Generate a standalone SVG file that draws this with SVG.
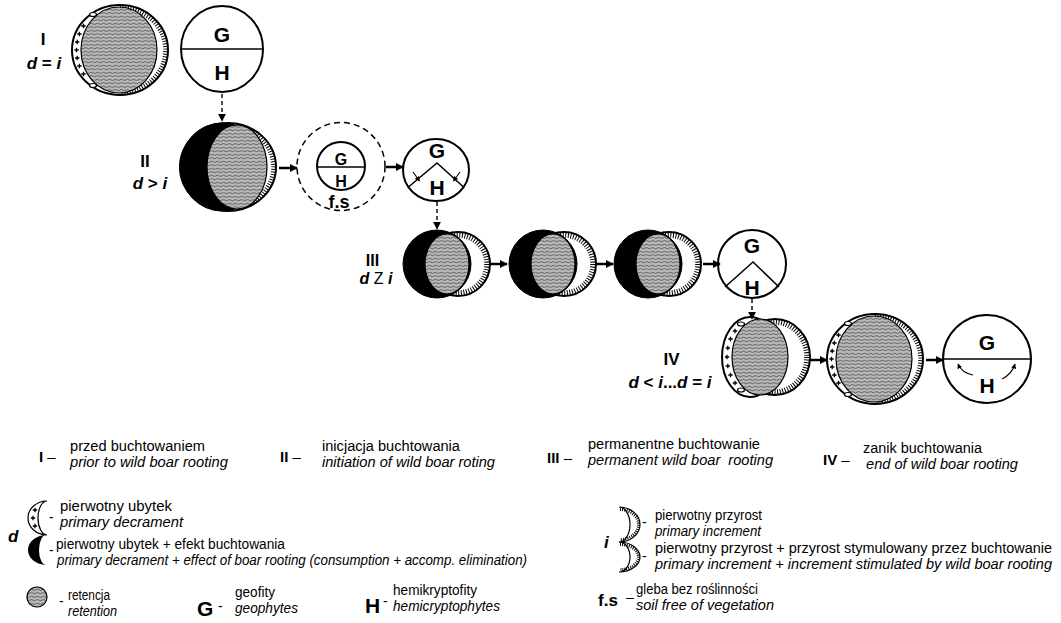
<svg xmlns="http://www.w3.org/2000/svg" xmlns:xlink="http://www.w3.org/1999/xlink" width="1061" height="623" viewBox="0 0 1061 623">
<style>
.t{font-family:"Liberation Sans",Arial,sans-serif;font-size:14px;fill:#000}
.it{font-style:italic}
.b{font-weight:bold}
.lbl{font-family:"Liberation Sans",Arial,sans-serif;font-weight:bold;font-size:17px;text-anchor:middle;fill:#000}
.gh{font-family:"Liberation Sans",Arial,sans-serif;font-weight:bold;font-size:21px;text-anchor:middle;fill:#000}
.ol{fill:#fff;stroke:#000;stroke-width:2}
.ol1{fill:#fff;stroke:#000;stroke-width:1.2}
.hat{fill:url(#hatch);stroke:#000;stroke-width:1.2}
.blk{fill:#000;stroke:#000;stroke-width:1}
.tick{fill:none;stroke:#000;stroke-width:4.5;stroke-dasharray:1 1.6}
.ln{fill:none;stroke:#000;stroke-width:1.5}
.con{stroke:#000;stroke-width:2.5;fill:none}
.dcon{stroke:#000;stroke-width:1.4;stroke-dasharray:4 3;fill:none}
.sm{stroke:#000;stroke-width:1.1;fill:none}
</style>
<defs>
<pattern id="hatch" patternUnits="userSpaceOnUse" width="6" height="3.5">
<rect width="6" height="3.5" fill="#bcbcbc"/>
<path d="M0,1.75 Q1.5,0.5 3,1.75 Q4.5,3 6,1.75" stroke="#222" stroke-width="0.7" fill="none"/>
</pattern>
<marker id="ah" viewBox="0 0 10 10" refX="9" refY="5" markerWidth="8" markerHeight="8" markerUnits="userSpaceOnUse" orient="auto"><path d="M0,0 L10,5 L0,10 z" fill="#000"/></marker>
<marker id="ahs" viewBox="0 0 10 10" refX="9" refY="5" markerWidth="5" markerHeight="5" markerUnits="userSpaceOnUse" orient="auto"><path d="M0,0 L10,5 L0,10 z" fill="#000"/></marker>
<path id="plus" d="M-2.2,0h4.4M0,-2.2v4.4" stroke="#000" stroke-width="1.3" fill="none"/>
<g id="stable">
<ellipse rx="48" ry="45" class="ol"/>
<path d="M0,-42.5 A45.5 42.5 0 0 1 0,42.5" class="tick"/>
<ellipse cx="-1" rx="38" ry="43" class="hat"/>
<ellipse cx="-27" cy="-35.5" rx="3.5" ry="2" class="ol1"/>
<ellipse cx="-27" cy="35.5" rx="3.5" ry="2" class="ol1"/>
<use xlink:href="#plus" x="-43.5" y="0"/>
<use xlink:href="#plus" x="-42.8" y="-8"/>
<use xlink:href="#plus" x="-42.8" y="8"/>
<use xlink:href="#plus" x="-40.6" y="-16"/>
<use xlink:href="#plus" x="-40.6" y="16"/>
<use xlink:href="#plus" x="-36.5" y="-24"/>
<use xlink:href="#plus" x="-36.5" y="24"/>
</g>
<g id="rooted">
<ellipse cx="12" rx="32" ry="32" class="ol"/>
<ellipse cx="12" rx="29" ry="29" class="tick" style="stroke-width:5.5"/>
<ellipse cx="-9" rx="34" ry="34" class="blk"/>
<ellipse cx="1" rx="22" ry="30" class="hat"/>
</g>
</defs>

<!-- Stage I -->
<g id="label-I">
<text class="lbl" x="43" y="45">I</text>
<text class="lbl" x="44" y="69"><tspan class="it">d</tspan> = <tspan class="it">i</tspan></text>
</g>
<g id="node-I-state"><use xlink:href="#stable" transform="translate(120,50)"/></g>
<g id="node-I-GH">
<ellipse cx="222" cy="49" rx="41" ry="43" class="ol" stroke-width="1.5"/>
<line x1="181" y1="49" x2="263" y2="49" class="ln"/>
<text class="gh" x="222" y="42">G</text>
<text class="gh" x="222" y="80">H</text>
</g>

<!-- Stage II -->
<g id="label-II">
<text class="lbl" x="145" y="167">II</text>
<text class="lbl" x="150" y="189"><tspan class="it">d</tspan> &gt; <tspan class="it">i</tspan></text>
</g>
<g id="node-II-state" transform="translate(228,167)">
<ellipse rx="48" ry="44" class="ol"/>
<path d="M0,-41.5 A45.5 41.5 0 0 1 0,41.5" class="tick"/>
<ellipse cx="-6" rx="42" ry="44" class="blk"/>
<ellipse cx="9" rx="30" ry="42" class="hat"/>
</g>
<g id="node-II-fs">
<circle cx="341" cy="166.5" r="44" fill="#fff" stroke="#000" stroke-width="1.5" stroke-dasharray="6 4"/>
<circle cx="341" cy="166" r="24" class="ol" stroke-width="1.5"/>
<line x1="317" y1="167" x2="365" y2="167" class="ln"/>
<text class="gh" x="341" y="164.5" style="font-size:16px">G</text>
<text class="gh" x="341" y="186.5" style="font-size:16px">H</text>
<text class="gh" x="339" y="208" style="font-size:18px">f.s</text>
</g>
<g id="node-II-GH">
<ellipse cx="436" cy="170" rx="33" ry="31" class="ol" stroke-width="1.5"/>
<polyline points="408.5,187 437,163 463.5,187" class="ln"/>
<text class="gh" x="437" y="158">G</text>
<text class="gh" x="437" y="195">H</text>
<path d="M413,172 L419.5,181" class="sm" marker-end="url(#ahs)"/>
<path d="M460,172 L453.5,181" class="sm" marker-end="url(#ahs)"/>
</g>

<!-- Stage III -->
<g id="label-III">
<text class="lbl" x="372.5" y="266" style="font-size:16px">III</text>
<text class="lbl" x="376" y="284" style="font-size:16px"><tspan class="it">d</tspan> <tspan font-weight="normal">Z</tspan> <tspan class="it">i</tspan></text>
</g>
<g id="node-III-state-1"><use xlink:href="#rooted" transform="translate(446,264)"/></g>
<g id="node-III-state-2"><use xlink:href="#rooted" transform="translate(552,264)"/></g>
<g id="node-III-state-3"><use xlink:href="#rooted" transform="translate(657,264)"/></g>
<g id="node-III-GH">
<circle cx="752" cy="264" r="34" class="ol" stroke-width="1.5"/>
<polyline points="725,287 753,262 779,287" class="ln"/>
<text class="gh" x="752" y="253">G</text>
<text class="gh" x="752" y="295">H</text>
</g>

<!-- Stage IV -->
<g id="label-IV">
<text class="lbl" x="671.5" y="365">IV</text>
<text class="lbl" x="670" y="388"><tspan class="it">d</tspan> &lt; <tspan class="it">i</tspan>...<tspan class="it">d</tspan> = <tspan class="it">i</tspan></text>
</g>
<g id="node-IV-state-1" transform="translate(766,357)">
<ellipse cx="9" rx="35" ry="38" class="ol"/>
<ellipse cx="9" rx="32" ry="35" class="tick" style="stroke-width:5.5"/>
<ellipse cx="-16" rx="28" ry="40" class="ol"/>
<ellipse cx="-6" rx="28" ry="38" class="hat"/>
<ellipse cx="-25" cy="-33" rx="3.5" ry="2" class="ol1"/>
<ellipse cx="-25" cy="33" rx="3.5" ry="2" class="ol1"/>
<use xlink:href="#plus" x="-39" y="0"/>
<use xlink:href="#plus" x="-38.2" y="-9"/>
<use xlink:href="#plus" x="-38.2" y="9"/>
<use xlink:href="#plus" x="-35.5" y="-18"/>
<use xlink:href="#plus" x="-35.5" y="18"/>
<use xlink:href="#plus" x="-31" y="-26"/>
<use xlink:href="#plus" x="-31" y="26"/>
</g>
<g id="node-IV-state-2"><use xlink:href="#stable" transform="translate(875,359)"/></g>
<g id="node-IV-GH">
<circle cx="987" cy="359" r="44" class="ol" stroke-width="1.5"/>
<line x1="943" y1="359" x2="1031" y2="359" class="ln"/>
<text class="gh" x="987" y="350">G</text>
<text class="gh" x="987" y="393">H</text>
<path d="M973,375 Q962,373 958,364" class="sm" marker-end="url(#ahs)"/>
<path d="M1002,379 Q1012,374 1015,364" class="sm" marker-end="url(#ahs)"/>
</g>

<!-- Connectors -->
<g id="connectors">
<line x1="222" y1="94" x2="222" y2="121" class="dcon" marker-end="url(#ah)"/>
<line x1="437" y1="202" x2="437" y2="229" class="dcon" marker-end="url(#ah)"/>
<line x1="752" y1="299" x2="752" y2="319" class="dcon" marker-end="url(#ah)"/>
<line x1="279" y1="168" x2="297" y2="168" class="con" marker-end="url(#ah)"/>
<line x1="386" y1="167" x2="403" y2="167" class="con" marker-end="url(#ah)"/>
<line x1="490" y1="264" x2="507" y2="264" class="con" marker-end="url(#ah)"/>
<line x1="597" y1="264" x2="613" y2="264" class="con" marker-end="url(#ah)"/>
<line x1="703" y1="264" x2="720" y2="264" class="con" marker-end="url(#ah)"/>
<line x1="810" y1="360" x2="827" y2="360" class="con" marker-end="url(#ah)"/>
<line x1="926" y1="360" x2="943" y2="360" class="con" marker-end="url(#ah)"/>
</g>

<!-- Legend: stages -->
<g id="legend-stages">
<text class="t" x="39" y="462" style="font-size:15px"><tspan class="b">I</tspan> –</text>
<text class="t" x="70" y="451" textLength="135" lengthAdjust="spacingAndGlyphs">przed buchtowaniem</text>
<text class="t it" x="70" y="467" textLength="158" lengthAdjust="spacingAndGlyphs">prior to wild boar rooting</text>
<text class="t" x="280" y="462" style="font-size:15px"><tspan class="b">II</tspan> –</text>
<text class="t" x="322" y="451" textLength="138" lengthAdjust="spacingAndGlyphs">inicjacja buchtowania</text>
<text class="t it" x="322" y="467" textLength="173" lengthAdjust="spacingAndGlyphs">initiation of wild boar roting</text>
<text class="t" x="547" y="463" style="font-size:15px"><tspan class="b">III</tspan> –</text>
<text class="t" x="588" y="449" textLength="172" lengthAdjust="spacingAndGlyphs">permanentne buchtowanie</text>
<text class="t it" x="588" y="465" textLength="185" lengthAdjust="spacingAndGlyphs" style="white-space:pre">permanent wild boar  rooting</text>
<text class="t" x="823" y="465" style="font-size:15px"><tspan class="b">IV</tspan> –</text>
<text class="t" x="863" y="453" textLength="119" lengthAdjust="spacingAndGlyphs">zanik buchtowania</text>
<text class="t it" x="866" y="469" textLength="152" lengthAdjust="spacingAndGlyphs">end of wild boar rooting</text>
</g>

<!-- Legend: decrement -->
<g id="legend-d">
<text class="t b it" x="8" y="542" style="font-size:17px">d</text>
<path d="M47,501 A19 17 0 0 0 47,535 A9 17 0 0 1 47,501Z" class="ol1"/>
<use xlink:href="#plus" x="35" y="510"/>
<use xlink:href="#plus" x="33" y="518"/>
<use xlink:href="#plus" x="35" y="526"/>
<path d="M46,535 A18 15 0 0 0 46,565 A7 15 0 0 1 46,535Z" fill="#000"/>
<text class="t" x="49" y="522">-</text>
<text class="t" x="49" y="555">-</text>
<text class="t" x="60" y="511" textLength="112" lengthAdjust="spacingAndGlyphs">pierwotny ubytek</text>
<text class="t it" x="60" y="527" textLength="123" lengthAdjust="spacingAndGlyphs">primary decrament</text>
<text class="t" x="56" y="549" textLength="229" lengthAdjust="spacingAndGlyphs">pierwotny ubytek + efekt buchtowania</text>
<text class="t it" x="57" y="565" textLength="470" lengthAdjust="spacingAndGlyphs">primary decrament + effect of boar rooting (consumption + accomp. elimination)</text>
</g>

<!-- Legend: increment -->
<g id="legend-i">
<text class="t b it" x="604" y="548" style="font-size:17px">i</text>
<path d="M619,507 A21 17.5 0 0 1 619,542 A11 17.5 0 0 0 619,507Z" class="ol1"/>
<path d="M620,509.5 A18.5 15 0 0 1 620,539.5" fill="none" stroke="#000" stroke-width="3" stroke-dasharray="1 1.2"/>
<path d="M619,542 A21 15 0 0 1 619,572 A11 15 0 0 0 619,542Z" class="ol1"/>
<path d="M620,544.5 A18.5 12.5 0 0 1 620,569.5" fill="none" stroke="#000" stroke-width="3" stroke-dasharray="1 1.2"/>
<text class="t" x="642" y="527">-</text>
<text class="t" x="642" y="561">-</text>
<text class="t" x="655" y="520" textLength="107" lengthAdjust="spacingAndGlyphs">pierwotny przyrost</text>
<text class="t it" x="655" y="536" textLength="106" lengthAdjust="spacingAndGlyphs">primary increment</text>
<text class="t" x="655" y="553" textLength="397" lengthAdjust="spacingAndGlyphs">pierwotny przyrost + przyrost stymulowany przez buchtowanie</text>
<text class="t it" x="655" y="569" textLength="397" lengthAdjust="spacingAndGlyphs">primary increment + increment stimulated by wild boar rooting</text>
</g>

<!-- Legend: retention, G, H, f.s -->
<g id="legend-retention">
<circle cx="37" cy="597" r="10" class="hat"/>
<text class="t" x="59" y="606">-</text>
<text class="t" x="68" y="600" textLength="42" lengthAdjust="spacingAndGlyphs">retencja</text>
<text class="t it" x="68" y="616" textLength="49" lengthAdjust="spacingAndGlyphs">retention</text>
</g>
<g id="legend-G">
<text class="t b" x="197" y="616" style="font-size:21px">G</text>
<text class="t" x="218" y="611">-</text>
<text class="t" x="235" y="597" textLength="40" lengthAdjust="spacingAndGlyphs">geofity</text>
<text class="t it" x="235" y="613" textLength="63" lengthAdjust="spacingAndGlyphs">geophytes</text>
</g>
<g id="legend-H">
<text class="t b" x="365" y="613" style="font-size:21px">H</text>
<text class="t" x="383" y="606">-</text>
<text class="t" x="393" y="595" textLength="84" lengthAdjust="spacingAndGlyphs">hemikryptofity</text>
<text class="t it" x="393" y="611" textLength="107" lengthAdjust="spacingAndGlyphs">hemicryptophytes</text>
</g>
<g id="legend-fs">
<text class="t b" x="598" y="606" style="font-size:17px">f.s</text>
<text class="t" x="626" y="602">–</text>
<text class="t" x="636" y="594" textLength="122" lengthAdjust="spacingAndGlyphs">gleba bez roślinności</text>
<text class="t it" x="636" y="610" textLength="138" lengthAdjust="spacingAndGlyphs">soil free of vegetation</text>
</g>
</svg>
